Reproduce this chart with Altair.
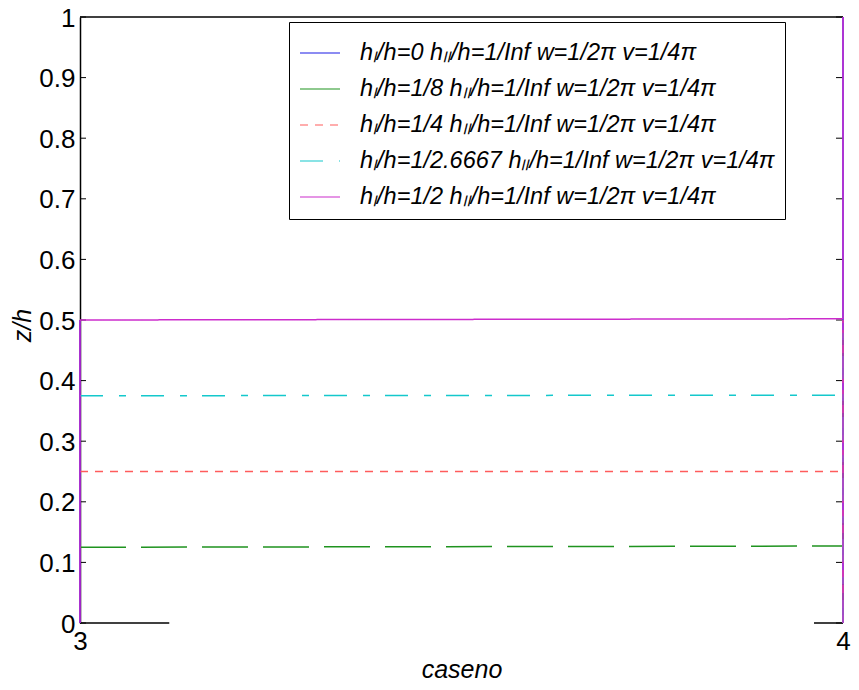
import altair as alt
import pandas as pd

# ---- data ----
series = [
    "hₗ/h=0 hₗₗ/h=1/Inf w=1/2π v=1/4π",
    "hₗ/h=1/8 hₗₗ/h=1/Inf w=1/2π v=1/4π",
    "hₗ/h=1/4 hₗₗ/h=1/Inf w=1/2π v=1/4π",
    "hₗ/h=1/2.6667 hₗₗ/h=1/Inf w=1/2π v=1/4π",
    "hₗ/h=1/2 hₗₗ/h=1/Inf w=1/2π v=1/4π",
]
colors = ["#1a1ae6", "#1f931f", "#ff5c5c", "#14c8cc", "#cc2ccc"]
dashes = [[1, 0], [46, 15], [8, 7], [23, 16, 7, 15], [1, 0]]

# each series: list of path segments (caseno values, z/h values)
blue_case = [[3, 3], [4, 4]]
blue_z = [[0, 0.5], [0, 1]]
green_case = [[3, 4], [4, 4]]
green_z = [[0.125, 0.127], [0, 0.5]]
red_case = [[3, 4], [4, 4]]
red_z = [[0.25, 0.25], [0, 0.5]]
cyan_case = [[3, 4], [4, 4]]
cyan_z = [[0.375, 0.376], [0, 0.5]]
magenta_case = [[3, 3, 4, 4], [4, 4]]
magenta_z = [[0, 0.5, 0.502, 1], [0, 0.5]]

y_ticks = [0, 0.1, 0.2, 0.3, 0.4, 0.5, 0.6, 0.7, 0.8, 0.9, 1]
x_ticks = [3, 4]
bottom_segs_x = [3, 3.117]
bottom_segs_x2 = [3.962, 4]

# ---- build table ----
rows = []
for name, cases, zs in zip(series,
                           [blue_case, green_case, red_case, cyan_case, magenta_case],
                           [blue_z, green_z, red_z, cyan_z, magenta_z]):
    for si, (cs, zz) in enumerate(zip(cases, zs)):
        for k, (c, z) in enumerate(zip(cs, zz)):
            rows.append({"series": name, "seg": f"{name}-{si}", "order": k,
                         "caseno": c, "z": z})
df = pd.DataFrame(rows)

W, H = 763, 606

xscale = alt.Scale(domain=[3, 4], nice=False, zero=False)
yscale = alt.Scale(domain=[0, 1], nice=False)

lines = alt.Chart(df).mark_line(strokeWidth=1.5).encode(
    x=alt.X("caseno:Q", scale=xscale,
            axis=alt.Axis(title="caseno", values=x_ticks, format="d", grid=False,
                          ticks=False, domain=False, labelFlush=False,
                          labelPadding=5, titleFontStyle="italic",
                          titleX=W / 2, titleY=46, titleBaseline="middle")),
    y=alt.Y("z:Q", scale=yscale,
            axis=alt.Axis(title="z/h", values=y_ticks, format=".1~f", grid=False,
                          ticks=False, labelPadding=5, labelOffset=1,
                          titleFontStyle="italic",
                          titleX=-58, titleY=308, titleBaseline="middle",
                          titleAlign="center", titleAngle=270)),
    color=alt.Color("series:N", scale=alt.Scale(domain=series, range=colors),
                    legend=alt.Legend(title=None)),
    strokeDash=alt.StrokeDash("series:N", scale=alt.Scale(domain=series, range=dashes),
                              legend=alt.Legend(title=None)),
    detail="seg:N",
    order="order:Q",
)

ticks_df = pd.DataFrame({"t": y_ticks})
left_ticks = alt.Chart(ticks_df).mark_rule(color="black", strokeWidth=1).encode(
    y=alt.Y("t:Q", scale=yscale), x=alt.value(0), x2=alt.value(6))
right_ticks = alt.Chart(ticks_df).mark_rule(color="black", strokeWidth=1).encode(
    y=alt.Y("t:Q", scale=yscale), x=alt.value(W - 7), x2=alt.value(W))

frame_df = pd.DataFrame({
    "x": [3, bottom_segs_x[0], bottom_segs_x2[0]],
    "x2": [4, bottom_segs_x[1], bottom_segs_x2[1]],
    "y": [1, 0, 0],
})
frame = alt.Chart(frame_df).mark_rule(color="black", strokeWidth=1.5).encode(
    x=alt.X("x:Q", scale=xscale), x2="x2:Q", y=alt.Y("y:Q", scale=yscale))

chart = alt.layer(frame, left_ticks, right_ticks, lines).properties(
    width=W, height=H,
    autosize=alt.AutoSizeParams(type="none"),
    padding={"left": 72, "top": 9, "right": 8, "bottom": 59},
).configure_view(strokeWidth=0).configure_axis(
    labelFont="Liberation Sans", labelFontSize=26, labelColor="black",
    titleFont="Liberation Sans", titleFontSize=25, titleColor="black",
    titleFontWeight="normal", domainColor="black", domainWidth=1.5,
).configure_legend(
    orient="none", legendX=209, legendY=5,
    symbolType="stroke", symbolSize=1600, symbolStrokeWidth=1.2,
    labelFont="Liberation Sans", labelFontSize=23.5, labelFontStyle="italic",
    labelColor="black", labelOffset=19, labelLimit=1000,
    padding=10, rowPadding=3, strokeColor="black", fillColor="white",
)

chart.save("out.html", embed_options={"renderer": "svg", "actions": False})
